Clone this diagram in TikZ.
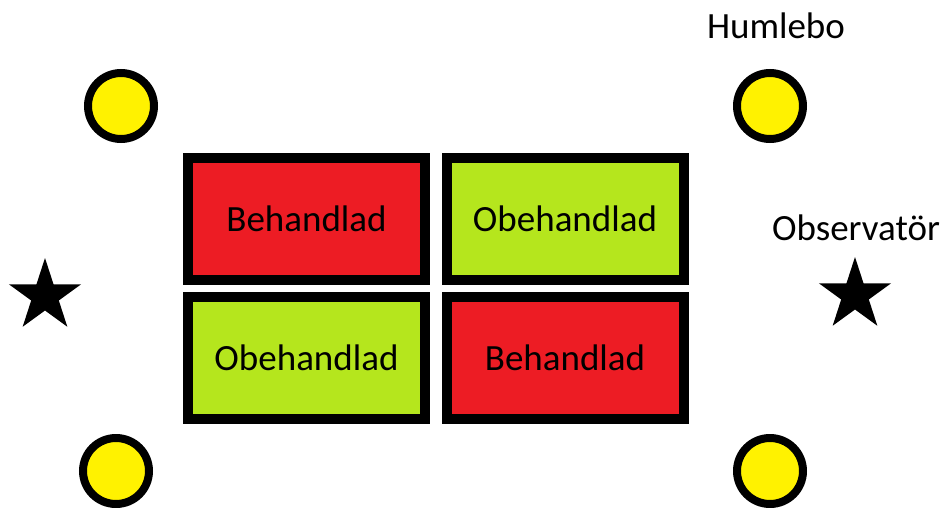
\documentclass[tikz,border=0pt]{standalone}
\usepackage{fontspec}
\setmainfont{Carlito}
\usetikzlibrary{shapes.geometric}
\definecolor{pred}{HTML}{ED1C24}
\definecolor{pgreen}{HTML}{B5E61D}
\definecolor{pyellow}{HTML}{FFF200}
\tikzset{
  plot/.style={draw=black, line width=10pt, minimum width=237pt, minimum height=122pt, inner sep=0pt, font=\fontsize{37}{42}\selectfont},
  treated/.style={plot, fill=pred},
  untreated/.style={plot, fill=pgreen},
  marker/.style={circle, draw=black, line width=8pt, fill=pyellow, minimum size=66pt, inner sep=0pt},
  obs/.style={star, star points=5, star point ratio=2.618, fill=black, minimum size=76pt, inner sep=0pt},
  lbl/.style={font=\fontsize{37}{42}\selectfont, inner sep=0pt}
}
\begin{document}
\begin{tikzpicture}[x=1pt,y=-1pt]
\useasboundingbox (0,0) rectangle (946,507);
\node[treated]   (b1) at (306.5,219) {Behandlad};
\node[untreated] (b2) at (565,219) {Obehandlad};
\node[untreated] (b3) at (306.5,357.5) {Obehandlad};
\node[treated]   (b4) at (565,357.5) {Behandlad};
\node[marker] (c1) at (121,106) {};
\node[marker] (c2) at (770,106) {};
\node[marker] (c3) at (116,471) {};
\node[marker] (c4) at (770,471) {};
\node[obs] (s1) at (45,296) {};
\node[obs] (s2) at (855,295) {};
\node[lbl] (t1) at (776,26) {Humlebo};
\node[lbl] (t2) at (856,228) {Observatör};
\end{tikzpicture}
\end{document}
